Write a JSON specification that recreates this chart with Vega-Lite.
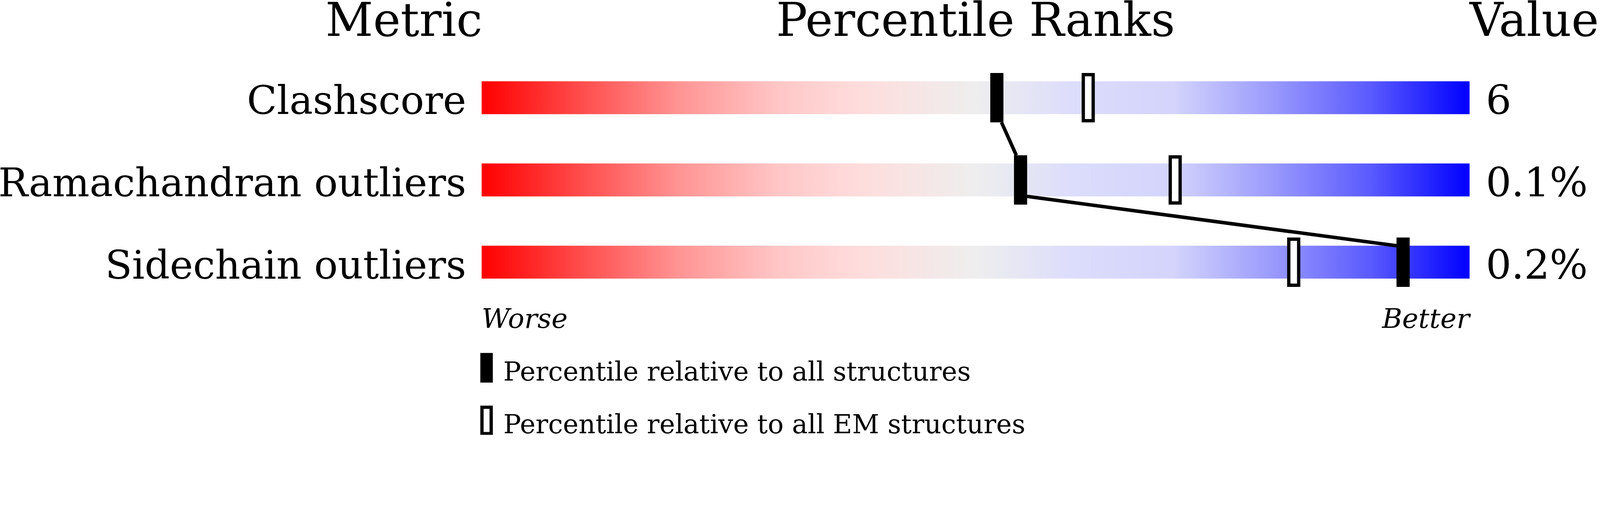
{
  "$schema": "https://vega.github.io/schema/vega-lite/v6.json",
  "width": 4096,
  "height": 1114.2,
  "autosize": "none",
  "padding": 0,
  "background": "white",
  "config": {
    "view": {"stroke": null},
    "axis": {"disable": true},
    "font": "DejaVu Serif",
    "text": {"font": "DejaVu Serif", "color": "black"}
  },
  "datasets": {
    "metrics": [
      {"metric": "Clashscore", "row": 1, "value": "6", "all": 52.15, "em": 61.4},
      {"metric": "Ramachandran outliers", "row": 2, "value": "0.1%", "all": 54.55, "em": 70.2},
      {"metric": "Sidechain outliers", "row": 3, "value": "0.2%", "all": 93.27, "em": 82.2}
    ],
    "links": [
      {"seg": "a", "pct": 52.62, "y": 1.3},
      {"seg": "a", "pct": 54.12, "y": 1.7},
      {"seg": "b", "pct": 55.21, "y": 2.2},
      {"seg": "b", "pct": 92.6, "y": 2.8}
    ],
    "blank": [{}]
  },
  "layer": [
    {
      "data": {"name": "metrics"},
      "mark": {
        "type": "rect",
        "height": 84.3,
        "color": {
          "gradient": "linear",
          "x1": 0, "y1": 0, "x2": 1, "y2": 0,
          "stops": [
            {"offset": 0, "color": "#ff0000"},
            {"offset": 0.1, "color": "#ff4c4c"},
            {"offset": 0.2, "color": "#ff9494"},
            {"offset": 0.3, "color": "#ffc6c6"},
            {"offset": 0.38, "color": "#ffdcdc"},
            {"offset": 0.5, "color": "#eeeeee"},
            {"offset": 0.6, "color": "#dcdcfc"},
            {"offset": 0.7, "color": "#d4d4fc"},
            {"offset": 0.8, "color": "#9a9afc"},
            {"offset": 0.9, "color": "#5a5afe"},
            {"offset": 1, "color": "#0000ff"}
          ]
        }
      },
      "encoding": {
        "x": {"datum": 0, "type": "quantitative", "scale": {"domain": [-48.75, 113.2], "nice": false, "zero": false}, "axis": null},
        "x2": {"datum": 100},
        "y": {"field": "row", "type": "quantitative", "scale": {"domain": [-0.188, 5.1], "reverse": true, "nice": false, "zero": false}, "axis": null}
      }
    },
    {
      "data": {"name": "links"},
      "mark": {"type": "line", "color": "black", "strokeWidth": 9, "strokeCap": "butt"},
      "encoding": {
        "x": {"field": "pct", "type": "quantitative"},
        "y": {"field": "y", "type": "quantitative"},
        "detail": {"field": "seg"}
      }
    },
    {
      "data": {"name": "metrics"},
      "mark": {"type": "rect", "width": 33.7, "height": 126.4, "fill": "black", "stroke": null},
      "encoding": {
        "x": {"field": "all", "type": "quantitative"},
        "y": {"field": "row", "type": "quantitative"}
      }
    },
    {
      "data": {"name": "metrics"},
      "mark": {"type": "rect", "width": 25.3, "height": 118, "fill": "white", "stroke": "black", "strokeWidth": 8.4},
      "encoding": {
        "x": {"field": "em", "type": "quantitative"},
        "y": {"field": "row", "type": "quantitative"}
      }
    },
    {
      "data": {"name": "metrics"},
      "mark": {"type": "text", "align": "right", "baseline": "alphabetic", "dx": -39.5, "dy": 42.1, "fontSize": 100.6},
      "encoding": {
        "x": {"datum": 0, "type": "quantitative"},
        "y": {"field": "row", "type": "quantitative"},
        "text": {"field": "metric"}
      }
    },
    {
      "data": {"name": "metrics"},
      "mark": {"type": "text", "align": "left", "baseline": "alphabetic", "dx": 41.5, "dy": 42.1, "fontSize": 102.8},
      "encoding": {
        "x": {"datum": 100, "type": "quantitative"},
        "y": {"field": "row", "type": "quantitative"},
        "text": {"field": "value"}
      }
    },
    {
      "data": {"name": "blank"},
      "mark": {"type": "text", "align": "right", "baseline": "alphabetic", "dx": 2, "fontSize": 119, "text": "Metric"},
      "encoding": {
        "x": {"datum": 0, "type": "quantitative"},
        "y": {"datum": 0.248, "type": "quantitative"}
      }
    },
    {
      "data": {"name": "blank"},
      "mark": {"type": "text", "align": "center", "baseline": "alphabetic", "fontSize": 119, "text": "Percentile Ranks"},
      "encoding": {
        "x": {"datum": 50, "type": "quantitative"},
        "y": {"datum": 0.248, "type": "quantitative"}
      }
    },
    {
      "data": {"name": "blank"},
      "mark": {"type": "text", "align": "left", "baseline": "alphabetic", "fontSize": 119, "text": "Value"},
      "encoding": {
        "x": {"datum": 100, "type": "quantitative"},
        "y": {"datum": 0.248, "type": "quantitative"}
      }
    },
    {
      "data": {"name": "blank"},
      "mark": {"type": "text", "align": "left", "baseline": "alphabetic", "fontSize": 70, "fontStyle": "italic", "text": "Worse"},
      "encoding": {
        "x": {"datum": 0, "type": "quantitative"},
        "y": {"datum": 3.8, "type": "quantitative"}
      }
    },
    {
      "data": {"name": "blank"},
      "mark": {"type": "text", "align": "right", "baseline": "alphabetic", "fontSize": 70, "fontStyle": "italic", "text": "Better"},
      "encoding": {
        "x": {"datum": 100, "type": "quantitative"},
        "y": {"datum": 3.8, "type": "quantitative"}
      }
    },
    {
      "data": {"name": "blank"},
      "mark": {"type": "rect", "width": 32, "height": 75.9, "fill": "black"},
      "encoding": {
        "x": {"datum": 0.5, "type": "quantitative"},
        "y": {"datum": 4.284, "type": "quantitative"}
      }
    },
    {
      "data": {"name": "blank"},
      "mark": {"type": "rect", "width": 23.6, "height": 67.5, "fill": "white", "stroke": "black", "strokeWidth": 8.4},
      "encoding": {
        "x": {"datum": 0.5, "type": "quantitative"},
        "y": {"datum": 4.924, "type": "quantitative"}
      }
    },
    {
      "data": {"name": "blank"},
      "mark": {"type": "text", "align": "left", "baseline": "alphabetic", "fontSize": 67.5, "text": "Percentile relative to all structures"},
      "encoding": {
        "x": {"datum": 2.2, "type": "quantitative"},
        "y": {"datum": 4.44, "type": "quantitative"}
      }
    },
    {
      "data": {"name": "blank"},
      "mark": {"type": "text", "align": "left", "baseline": "alphabetic", "fontSize": 67.5, "text": "Percentile relative to all EM structures"},
      "encoding": {
        "x": {"datum": 2.2, "type": "quantitative"},
        "y": {"datum": 5.08, "type": "quantitative"}
      }
    }
  ]
}
